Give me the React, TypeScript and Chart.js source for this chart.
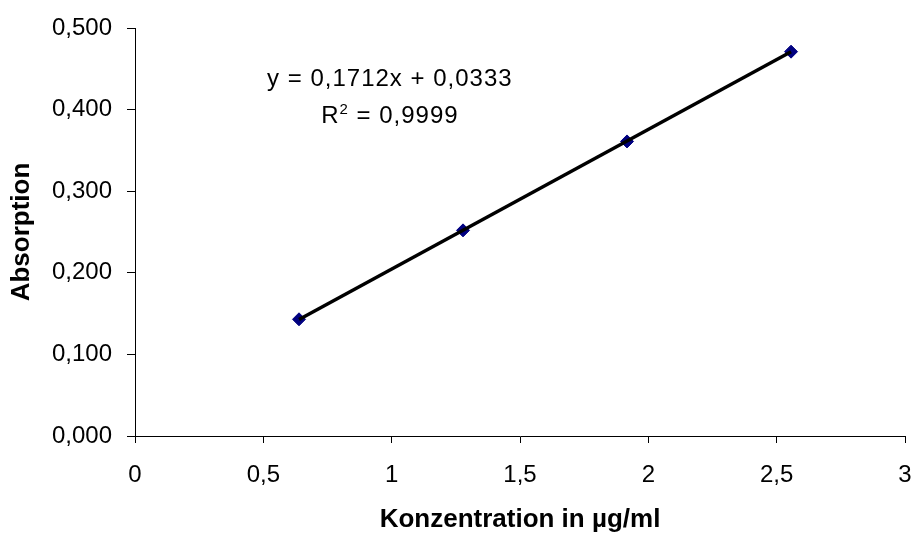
import React, { useEffect, useRef } from "react";
import { Chart, registerables } from "chart.js";

Chart.register(...registerables);

// Data
const concentrations = [0.639, 1.278, 1.917, 2.556];
const absorptions = [0.143, 0.252, 0.361, 0.471];

// Trendline (as printed on the chart)
const slope = 0.1712;
const intercept = 0.0333;
const rSquared = "0,9999";
const equationText = "y = 0,1712x + 0,0333";

// Axis ticks
const xTickValues = [0, 0.5, 1, 1.5, 2, 2.5, 3];
const xTickLabels = ["0", "0,5", "1", "1,5", "2", "2,5", "3"];
const yTickValues = [0, 0.1, 0.2, 0.3, 0.4, 0.5];
const yTickLabels = ["0,000", "0,100", "0,200", "0,300", "0,400", "0,500"];

// Axis titles
const xTitle = "Konzentration in µg/ml";
const yTitle = "Absorption";

// Equation label anchor (data space)
const eqAnchorX = 0.993;
const eqLine1Y = 0.4285;
const eqLine2Y = 0.384;

const FONT = "'Liberation Sans', Arial, Helvetica, sans-serif";

const equationPlugin = {
  id: "equationLabel",
  afterDraw(chart: any) {
    const { ctx, scales } = chart;
    const cx = scales.x.getPixelForValue(eqAnchorX);
    const y1 = scales.y.getPixelForValue(eqLine1Y);
    const y2 = scales.y.getPixelForValue(eqLine2Y);
    ctx.save();
    ctx.fillStyle = "#000";
    ctx.textBaseline = "alphabetic";
    try { (ctx as any).letterSpacing = "1px"; } catch (e) {}
    ctx.font = `24px ${FONT}`;
    ctx.textAlign = "center";
    ctx.fillText(equationText, cx, y1);
    // R² line
    ctx.textAlign = "left";
    const big = `24px ${FONT}`;
    const small = `15px ${FONT}`;
    ctx.font = big;
    const wR = ctx.measureText("R").width;
    const rest = " = " + rSquared;
    const wRest = ctx.measureText(rest).width;
    ctx.font = small;
    const w2 = ctx.measureText("2").width;
    const total = wR + w2 + wRest;
    let x = cx - total / 2;
    ctx.font = big;
    ctx.fillText("R", x, y2);
    x += wR;
    ctx.font = small;
    ctx.fillText("2", x, y2 - 9);
    x += w2;
    ctx.font = big;
    ctx.fillText(rest, x, y2);
    ctx.restore();
  },
};

export default function App() {
  const canvasRef = useRef<HTMLCanvasElement | null>(null);

  useEffect(() => {
    if (!canvasRef.current) return;
    Chart.defaults.font.family = FONT;
    const points = concentrations.map((c, i) => ({ x: c, y: absorptions[i] }));
    const xMin = Math.min(...concentrations);
    const xMax = Math.max(...concentrations);
    const trend = [
      { x: xMin, y: slope * xMin + intercept },
      { x: xMax, y: slope * xMax + intercept },
    ];
    const chart = new Chart(canvasRef.current, {
      type: "scatter",
      data: {
        datasets: [
          {
            label: "Trend",
            data: trend,
            showLine: true,
            borderColor: "#000000",
            borderWidth: 3.5,
            pointRadius: 0,
            order: 0,
          },
          {
            label: "Absorption",
            data: points,
            pointStyle: "rectRot",
            pointRadius: 6.5,
            pointBackgroundColor: "#000080",
            pointBorderColor: "#000080",
            pointBorderWidth: 1,
            showLine: false,
            order: 1,
          },
        ],
      },
      options: {
        responsive: false,
        animation: false,
        layout: { padding: { top: 28, right: 12, left: 0, bottom: 0 } },
        plugins: {
          legend: { display: false },
          tooltip: { enabled: false },
        },
        scales: {
          x: {
            type: "linear",
            min: 0,
            max: 3,
            afterFit: (s: any) => {
              s.height = 97;
              s.paddingLeft = 0;
              s.paddingRight = 0;
            },
            afterBuildTicks: (s: any) => { s.ticks = xTickValues.map((v) => ({ value: v })); },
            ticks: {
              color: "#000",
              font: { size: 24, lineHeight: 1 },
              padding: 20,
              maxRotation: 0,
              autoSkip: false,
              callback: (v: any) => {
                const i = xTickValues.findIndex((t) => Math.abs(t - v) < 1e-9);
                return i >= 0 ? xTickLabels[i] : "";
              },
            },
            grid: { drawOnChartArea: false, drawTicks: true, tickLength: 7, color: "#000" },
            border: { display: true, color: "#000", width: 1 },
            title: {
              display: true,
              text: xTitle,
              color: "#000",
              font: { size: 26, weight: "bold", lineHeight: 1 },
              padding: { top: 0, bottom: 0 },
            },
          },
          y: {
            type: "linear",
            min: 0,
            max: 0.5,
            afterFit: (s: any) => {
              s.width = 135;
              s.paddingTop = 0;
              s.paddingBottom = 0;
            },
            afterBuildTicks: (s: any) => { s.ticks = yTickValues.map((v) => ({ value: v })); },
            ticks: {
              color: "#000",
              font: { size: 24, lineHeight: 1 },
              padding: 15,
              autoSkip: false,
              callback: (v: any) => {
                const i = yTickValues.findIndex((t) => Math.abs(t - v) < 1e-9);
                return i >= 0 ? yTickLabels[i] : "";
              },
            },
            grid: { drawOnChartArea: false, drawTicks: true, tickLength: 8, color: "#000" },
            border: { display: true, color: "#000", width: 1 },
            title: {
              display: true,
              text: yTitle,
              color: "#000",
              font: { size: 26, weight: "bold", lineHeight: 1 },
              padding: { top: 9, bottom: 0 },
            },
          },
        },
      },
      plugins: [equationPlugin],
    });
    return () => chart.destroy();
  }, []);

  return (
    <div style={{ position: "fixed", left: 0, top: 0, width: 917, height: 533, background: "#fff" }}>
      <canvas ref={canvasRef} width={917} height={533} />
    </div>
  );
}
